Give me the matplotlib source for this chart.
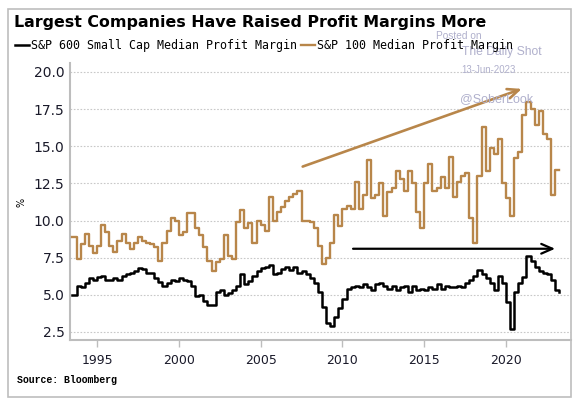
import matplotlib
matplotlib.use("Agg")
import matplotlib.pyplot as plt
from matplotlib.patches import Rectangle
import numpy as np

# ---------------- data ----------------
quarters = np.arange(1993.5, 2023.26, 0.25)

sp100_margin = [
    8.9, 7.4, 8.4, 9.1, 8.3, 7.8, 8.3, 9.7, 9.2, 8.3,   # 1993.50 - 1995.75
    7.9, 8.6, 9.1, 8.5, 8.1, 8.5, 8.9, 8.6, 8.5, 8.4,   # 1996.00 - 1998.25
    8.2, 7.3, 8.5, 9.3, 10.2, 10.0, 9.0, 9.2, 10.5, 10.5,  # 1998.50 - 2000.75
    9.5, 9.0, 8.2, 7.3, 6.6, 7.2, 7.4, 9.0, 7.6, 7.4,   # 2001.00 - 2003.25
    9.9, 10.7, 9.5, 9.8, 8.5, 10.0, 9.7, 9.3, 11.6, 10.0,  # 2003.50 - 2005.75
    10.6, 10.9, 11.3, 11.6, 11.8, 12.0, 10.0, 10.0, 9.9, 9.5,  # 2006.00 - 2008.25
    8.3, 7.1, 7.5, 8.5, 10.4, 9.6, 10.8, 11.0, 10.8, 12.6,  # 2008.50 - 2010.75
    10.8, 11.7, 14.1, 11.5, 11.7, 12.5, 10.3, 11.9, 12.2, 13.3,  # 2011.00 - 2013.25
    12.8, 12.0, 13.3, 12.5, 10.6, 9.5, 12.5, 13.8, 12.0, 12.2,  # 2013.50 - 2015.75
    12.9, 12.2, 14.3, 11.6, 12.6, 13.0, 13.2, 10.2, 8.5, 13.0,  # 2016.00 - 2018.25
    16.3, 13.3, 14.9, 14.5, 15.5, 12.5, 11.5, 10.3, 14.2, 14.6,  # 2018.50 - 2020.75
    17.1, 18.0, 17.5, 16.4, 17.4, 15.8, 15.5, 11.7, 13.4, 13.4,  # 2021.00 - 2023.25
]

sp600_margin = [
    5.0, 5.6, 5.5, 5.8, 6.15, 6.0, 6.2, 6.3, 6.0, 6.0,
    6.1, 6.0, 6.3, 6.4, 6.5, 6.6, 6.8, 6.75, 6.5, 6.5,
    6.1, 5.85, 5.6, 5.8, 6.0, 5.9, 6.1, 6.0, 5.9, 5.6,
    4.9, 5.0, 4.6, 4.3, 4.3, 5.2, 5.3, 5.0, 5.1, 5.3,
    5.6, 6.4, 5.7, 5.9, 6.3, 6.6, 6.8, 6.9, 7.0, 6.4,
    6.5, 6.75, 6.85, 6.7, 6.9, 6.5, 6.6, 6.4, 6.1, 5.8,
    5.2, 4.2, 3.1, 2.9, 3.5, 4.1, 4.7, 5.4, 5.5, 5.6,
    5.5, 5.7, 5.5, 5.3, 5.7, 5.8, 5.6, 5.4, 5.6, 5.3,
    5.5, 5.6, 5.2, 5.6, 5.3, 5.4, 5.3, 5.5, 5.4, 5.7,
    5.4, 5.6, 5.5, 5.5, 5.6, 5.5, 5.8, 6.0, 6.3, 6.7,
    6.4, 6.1, 5.8, 5.3, 6.3, 5.8, 4.5, 2.7, 5.2, 5.8,
    6.2, 7.6, 7.3, 6.9, 6.6, 6.5, 6.4, 6.0, 5.3, 5.2,
]

series_labels = ["S&P 600 Small Cap Median Profit Margin", "S&P 100 Median Profit Margin"]
y_ticks = [2.5, 5.0, 7.5, 10.0, 12.5, 15.0, 17.5, 20.0]
x_ticks = [1995, 2000, 2005, 2010, 2015, 2020]

# trend arrows (data coordinates: year, %)
up_arrow_start = (2007.57, 13.63)
up_arrow_end = (2020.96, 18.86)
flat_arrow_start = (2010.65, 8.1)
flat_arrow_end = (2023.0, 8.1)

ORANGE = "#B8864A"
BLACK = "#000000"
GRID = "#C8C8C8"
SPINE = "#BDBDBD"
WM = "#B0B0CC"

W, H = 585, 413
fig = plt.figure(figsize=(W / 100, H / 100), dpi=100)

def fx(px):
    return px / W

def fy(py):
    return 1 - py / H

# outer frame
fig.patches.append(Rectangle((fx(8), fy(397)), fx(571) - fx(8), fy(9) - fy(397),
                             transform=fig.transFigure, fill=False,
                             edgecolor="#BEBEBE", linewidth=1.2, zorder=0))

ax = fig.add_axes([fx(70), fy(340), fx(571) - fx(70), fy(63) - fy(340)])

l1, = ax.plot(quarters, sp600_margin, drawstyle="steps-post", color=BLACK, lw=1.8,
              label=series_labels[0], zorder=3)
l2, = ax.plot(quarters, sp100_margin, drawstyle="steps-post", color=ORANGE, lw=1.7,
              label=series_labels[1], zorder=3)

ax.annotate("", xy=up_arrow_end, xytext=up_arrow_start,
            arrowprops=dict(arrowstyle="->,head_length=0.8,head_width=0.35",
                            color=ORANGE, lw=1.9, shrinkA=0, shrinkB=0), zorder=4)
ax.annotate("", xy=flat_arrow_end, xytext=flat_arrow_start,
            arrowprops=dict(arrowstyle="->,head_length=0.8,head_width=0.35",
                            color=BLACK, lw=1.6, shrinkA=0, shrinkB=0), zorder=4)

ax.set_xlim(1993.35, 2023.97)
ax.set_ylim(1.96, 20.6)
ax.set_yticks(y_ticks)
ax.set_yticklabels([f"{v:.1f}" for v in y_ticks], fontsize=10, color="#1a1a2a")
ax.set_xticks(x_ticks)
ax.set_xticklabels([str(v) for v in x_ticks], fontsize=9, color="#1a1a2a")
ax.tick_params(axis="y", length=0, pad=4)
ax.tick_params(axis="x", length=5, width=1, color=SPINE, pad=5)
ax.yaxis.grid(True, linestyle=(0, (1.5, 1.5)), color=GRID, lw=0.8)
ax.set_axisbelow(True)
for s in ["top", "right"]:
    ax.spines[s].set_visible(False)
for s in ["left", "bottom"]:
    ax.spines[s].set_color(SPINE)
    ax.spines[s].set_linewidth(1.5)

fig.text(fx(21.5), fy(202), "%", rotation=90, fontsize=7, ha="center", va="center")

# title, legend, source
fig.text(fx(14), fy(22), "Largest Companies Have Raised Profit Margins More",
         fontsize=11.4, fontweight="bold", ha="left", va="center")
fig.legend(handles=[l1, l2], labels=series_labels, loc="center left",
           bbox_to_anchor=(fx(15), fy(46)), ncol=2, frameon=False,
           prop=dict(family="DejaVu Sans Mono", size=8.35),
           handlelength=1.25, handletextpad=0.15, columnspacing=0.3,
           borderpad=0, borderaxespad=0)
fig.text(fx(17), fy(380), "Source: Bloomberg", fontsize=7.1, fontweight="bold",
         family="Liberation Mono", ha="left", va="center")

# watermark
fig.text(fx(436), fy(36), "Posted on", fontsize=7.3, color=WM, family="Liberation Sans",
         ha="left", va="center")
fig.text(fx(462), fy(52), "The Daily Shot", fontsize=8.7, color=WM, family="Liberation Sans",
         ha="left", va="center")
fig.text(fx(461), fy(70), "13-Jun-2023", fontsize=6.9, color=WM, family="Liberation Sans",
         ha="left", va="center")
fig.text(fx(460), fy(99), "@SoberLook", fontsize=9, color=WM, family="Liberation Sans",
         ha="left", va="center")

fig.savefig("out.png", dpi=100)
